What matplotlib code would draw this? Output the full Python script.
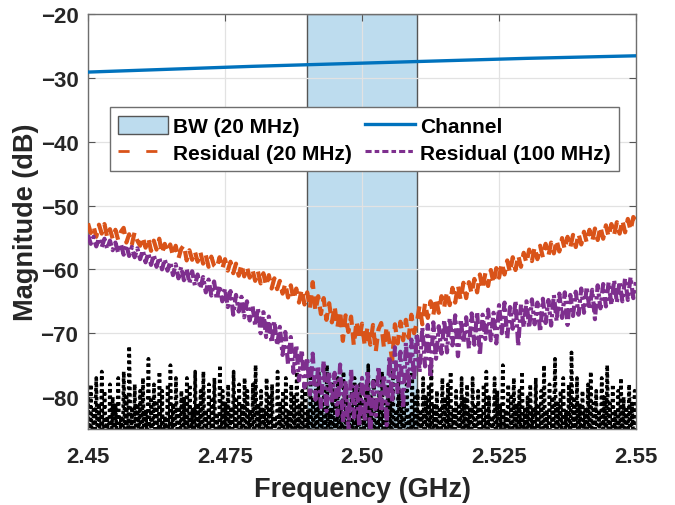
import numpy as np
import matplotlib
matplotlib.use('Agg')
import matplotlib.pyplot as plt
import matplotlib.patches as mpatches
from matplotlib.lines import Line2D

# ---------------------------------------------------------------
# Data (frequency in GHz, magnitude in dB)
# ---------------------------------------------------------------
bw_band = (2.49, 2.51)

chan_freq = [2.45, 2.46, 2.47, 2.48, 2.49, 2.50, 2.51, 2.52, 2.53, 2.54, 2.55]
chan_mag = [-29.1, -28.8, -28.5, -28.2, -27.95, -27.7, -27.45, -27.2, -26.95, -26.75, -26.55]

# residual after 20 MHz calibration, 0.5 MHz step from 2.45 GHz
res20_mag = [
    -52.8, -54.3, -53.2, -54.9, -53.0, -54.4, -52.9, -55.0, -53.7, -55.2,
    -53.8, -55.4, -54.1, -53.5, -55.8, -54.5, -56.1, -54.2, -55.5, -56.3,
    -54.9, -56.6, -55.1, -57.1, -55.5, -56.9, -55.2, -57.5, -56.0, -57.3,
    -56.1, -57.9, -56.3, -58.3, -56.8, -56.2, -58.6, -57.0, -58.5, -57.2,
    -58.8, -57.3, -59.1, -57.8, -59.6, -58.0, -59.4, -59.8, -58.1, -59.9,
    -58.4, -60.2, -58.8, -60.6, -59.1, -61.0, -59.2, -61.1, -59.6, -61.3,
    -60.0, -61.8, -60.3, -62.2, -60.6, -62.6, -60.9, -63.0, -61.4, -63.1,
    -61.8, -63.8, -62.2, -64.4, -62.5, -64.7, -63.0, -65.2, -63.1, -65.5,
    -63.6, -66.1, -62.0, -66.5, -64.2, -67.0, -64.5, -67.9, -65.3, -68.3,
    -65.8, -69.1, -66.5, -71.2, -67.2, -69.8, -67.4, -71.9, -68.1, -71.0,
    -68.5, -72.0, -69.0, -71.8, -68.7, -72.9, -69.4, -68.4, -72.3, -69.0,
    -71.4, -74.2, -68.6, -71.6, -68.2, -71.1, -67.9, -70.7, -67.1, -70.0,
    -68.3, -65.7, -68.6, -65.3, -67.6, -65.0, -67.2, -64.5, -66.8, -64.2,
    -65.9, -63.5, -65.6, -62.9, -65.2, -62.5, -64.8, -62.1, -64.5, -62.0,
    -63.8, -61.5, -63.6, -60.8, -63.1, -60.6, -62.6, -60.1, -62.2, -59.8,
    -61.3, -59.0, -60.8, -58.6, -60.5, -58.1, -60.1, -57.8, -59.6, -57.4,
    -59.0, -56.9, -58.7, -56.5, -58.4, -56.3, -58.1, -56.0, -57.9, -55.8,
    -57.5, -55.4, -57.2, -55.1, -56.9, -54.9, -56.6, -54.6, -56.5, -54.4,
    -56.1, -54.1, -55.8, -53.8, -55.6, -53.6, -55.4, -53.3, -55.2, -53.1,
    -54.9, -52.9, -54.6, -52.6, -54.4, -52.3, -54.2, -52.1, -53.9, -51.8,
    -52.4,
]

# residual after 100 MHz calibration, same grid
res100_mag = [
    -54.6, -56.0, -54.9, -56.4, -55.1, -56.5, -55.2, -56.8, -55.5, -57.0,
    -55.8, -57.4, -56.0, -57.7, -56.2, -57.9, -56.5, -58.1, -56.7, -58.4,
    -57.0, -58.9, -57.4, -59.3, -57.7, -59.6, -58.1, -60.0, -58.4, -60.2,
    -58.8, -60.9, -59.2, -61.4, -59.6, -61.7, -59.9, -62.2, -60.3, -62.5,
    -60.8, -63.0, -61.2, -63.6, -61.6, -64.1, -61.9, -64.7, -62.5, -65.0,
    -63.0, -65.9, -63.4, -67.1, -64.0, -66.6, -64.3, -67.5, -65.0, -68.0,
    -65.6, -68.8, -66.1, -70.0, -66.7, -70.6, -67.4, -71.5, -68.1, -71.9,
    -69.0, -73.4, -69.8, -74.9, -70.6, -76.2, -71.8, -77.4, -72.6, -78.5,
    -73.8, -79.6, -73.2, -80.4, -75.1, -81.6, -74.3, -82.2, -76.0, -81.0,
    -76.2, -82.8, -74.9, -83.9, -77.4, -85.5, -75.6, -83.2, -77.9, -84.6,
    -77.0, -83.8, -75.8, -86.0, -77.6, -82.9, -75.2, -82.3, -76.5, -84.4,
    -73.6, -80.9, -72.2, -79.5, -72.9, -81.8, -71.5, -78.7, -71.0, -77.3,
    -70.0, -76.1, -69.1, -75.2, -68.7, -77.0, -68.3, -74.0, -68.9, -73.2,
    -67.9, -73.0, -67.6, -71.9, -67.2, -73.6, -67.8, -71.5, -67.5, -72.4,
    -66.9, -71.8, -66.6, -73.5, -67.1, -70.9, -66.3, -71.1, -66.8, -71.6,
    -65.6, -70.0, -65.2, -70.8, -65.9, -69.3, -64.9, -72.0, -65.5, -69.1,
    -65.0, -69.2, -64.7, -68.6, -65.2, -69.8, -64.6, -68.4, -64.8, -68.8,
    -64.0, -68.1, -63.8, -67.6, -63.6, -68.7, -64.0, -67.3, -63.5, -67.1,
    -63.0, -66.8, -62.7, -66.3, -63.2, -67.8, -62.5, -66.1, -62.3, -65.8,
    -62.0, -65.6, -61.7, -65.2, -61.9, -65.0, -61.4, -64.8, -61.2, -64.5,
    -62.0,
]

# noise floor: spike tops and the troughs between them
noise_peaks = [
    -80, -78, -82, -77, -81, -76, -79, -83, -78, -80, -81, -77, -83, -76, -80, -72, -82, -78, -81, -79,
    -77, -82, -74, -80, -78, -81, -76, -79, -83, -78, -75, -81, -77, -82, -79, -80, -77, -78, -82, -76,
    -81, -79, -76, -82, -78, -80, -77, -83, -75, -79, -81, -78, -82, -76, -80, -78, -81, -77, -79, -82,
    -78, -75, -81, -79, -82, -77, -80, -78, -83, -76, -81, -79, -77, -82, -78, -80, -76, -81, -79, -78,
    -82, -77, -80, -78, -76, -81, -79, -75, -82, -78, -80, -77, -81, -76, -79, -82, -78, -77, -80, -78,
    -81, -78, -75, -80, -77, -82, -79, -76, -81, -78, -80, -76, -82, -77, -79, -81, -78, -83, -76, -80,
    -79, -82, -77, -80, -78, -75, -81, -79, -82, -77, -80, -78, -76, -82, -79, -81, -77, -80, -78, -82,
    -77, -81, -79, -82, -78, -76, -80, -83, -77, -79, -81, -75, -82, -78, -80, -77, -81, -79, -76, -82,
    -80, -78, -82, -77, -81, -79, -75, -82, -78, -80, -74, -81, -79, -77, -82, -78, -73, -80, -77, -81,
    -79, -82, -78, -76, -81, -79, -82, -77, -80, -75, -81, -78, -82, -79, -77, -80, -82, -78, -81, -79,
]
noise_troughs = [
    -88, -91, -87, -90, -89, -92, -86, -90, -88, -93, -87, -89, -91, -88, -90, -86, -92, -89, -87, -91,
    -90, -87, -92, -88, -86, -91, -89, -93, -87, -90, -88, -92, -86, -89, -91, -87, -90, -88, -93, -89,
    -87, -90, -88, -91, -93, -86, -89, -92, -88, -90, -91, -87, -89, -86, -92, -90, -88, -91, -87, -93,
    -91, -88, -86, -90, -92, -87, -89, -88, -91, -86, -90, -93, -87, -89, -92, -88, -86, -91, -90, -87,
    -89, -92, -90, -87, -88, -91, -86, -93, -89, -90, -87, -92, -88, -91, -86, -89, -90, -87, -93, -88,
    -86, -89, -91, -88, -93, -87, -90, -86, -92, -88, -89, -91, -87, -90, -88, -93, -86, -89, -91, -87,
    -92, -87, -89, -90, -86, -91, -88, -92, -87, -89, -93, -86, -90, -88, -91, -87, -92, -89, -86, -90,
    -88, -90, -87, -93, -89, -86, -91, -88, -90, -92, -87, -89, -86, -91, -88, -90, -93, -87, -89, -92,
    -90, -86, -92, -88, -91, -89, -87, -90, -93, -86, -88, -92, -89, -87, -91, -90, -86, -88, -92, -89,
    -87, -91, -88, -90, -86, -92, -89, -87, -91, -88, -93, -86, -90, -89, -87, -91, -88, -92, -86, -90,
]

x_ticks = [2.45, 2.475, 2.50, 2.525, 2.55]
x_ticklabels = ['2.45', '2.475', '2.50', '2.525', '2.55']
y_ticks = [-80, -70, -60, -50, -40, -30, -20]

# ---------------------------------------------------------------
# Build sample grids
# ---------------------------------------------------------------
res_freq = np.linspace(2.45, 2.55, len(res20_mag))
noise_mag = np.empty(len(noise_peaks) + len(noise_troughs))
noise_mag[0::2] = noise_peaks
noise_mag[1::2] = noise_troughs
noise_freq = np.linspace(2.45, 2.55, len(noise_mag))

# ---------------------------------------------------------------
# Plot
# ---------------------------------------------------------------
plt.rcParams['font.family'] = ['Liberation Sans', 'DejaVu Sans']
plt.rcParams['font.weight'] = 'bold'

C_BLUE = '#0072BD'
C_ORANGE = '#D95319'
C_PURPLE = '#7E2F8E'
C_BAND = '#BDDCEE'
TXT = '#262626'

fig = plt.figure(figsize=(6.75, 5.06), dpi=100)
ax = fig.add_axes([0.1304, 0.1502, 0.8119, 0.8202])

ax.axvspan(*bw_band, facecolor=C_BAND, edgecolor='#555555', linewidth=1.0, zorder=1)
ax.plot(noise_freq, noise_mag, color='black', linewidth=2.6, dashes=(0.9, 0.9), zorder=2)
ax.plot(res_freq, res20_mag, color=C_ORANGE, linewidth=3.0, dashes=(3.0, 1.8), zorder=3)
ax.plot(res_freq, res100_mag, color=C_PURPLE, linewidth=3.0,
        dashes=(2.6, 1.0, 0.8, 1.0), zorder=3)
ax.plot(chan_freq, chan_mag, color=C_BLUE, linewidth=2.4, zorder=4)

ax.set_xlim(2.45, 2.55)
ax.set_ylim(-85, -20)
ax.set_xticks(x_ticks)
ax.set_xticklabels(x_ticklabels)
ax.set_yticks(y_ticks)

ax.set_axisbelow('line')
ax.grid(True, color='#e2e2e2', linewidth=0.9)
ax.tick_params(direction='in', length=5, width=0.8, colors='#555555',
               top=True, right=True, labelsize=16, labelcolor=TXT)
ax.tick_params(axis='x', pad=12)
ax.tick_params(axis='y', pad=7)
for sp in ax.spines.values():
    sp.set_color('#6e6e6e')
    sp.set_linewidth(1.0)

ax.set_xlabel('Frequency (GHz)', fontsize=19.5, fontweight='bold', color=TXT, labelpad=7)
ax.set_ylabel('Magnitude (dB)', fontsize=19.5, fontweight='bold', color=TXT, labelpad=1)

handles = [
    mpatches.Patch(facecolor=C_BAND, edgecolor='#555555', label='BW (20 MHz)'),
    Line2D([], [], color=C_ORANGE, linewidth=2.0, dashes=(4.0, 6.0), label='Residual (20 MHz)'),
    Line2D([], [], color=C_BLUE, linewidth=2.4, label='Channel'),
    Line2D([], [], color=C_PURPLE, linewidth=2.2, dashes=(2.0, 1.0, 1.5, 1.0),
           label='Residual (100 MHz)'),
]
leg = ax.legend(handles=handles, ncol=2, loc='upper left', bbox_to_anchor=(0.04, 0.775),
                fontsize=15, frameon=True, fancybox=False, framealpha=1,
                edgecolor='#6e6e6e', handlelength=2.4, handleheight=1.0,
                handletextpad=0.25, columnspacing=0.6, labelspacing=0.3,
                borderpad=0.4, borderaxespad=0)
leg.get_frame().set_linewidth(1.0)
for t in leg.get_texts():
    t.set_color('black')

fig.savefig('out.png', dpi=100)
plt.close(fig)
